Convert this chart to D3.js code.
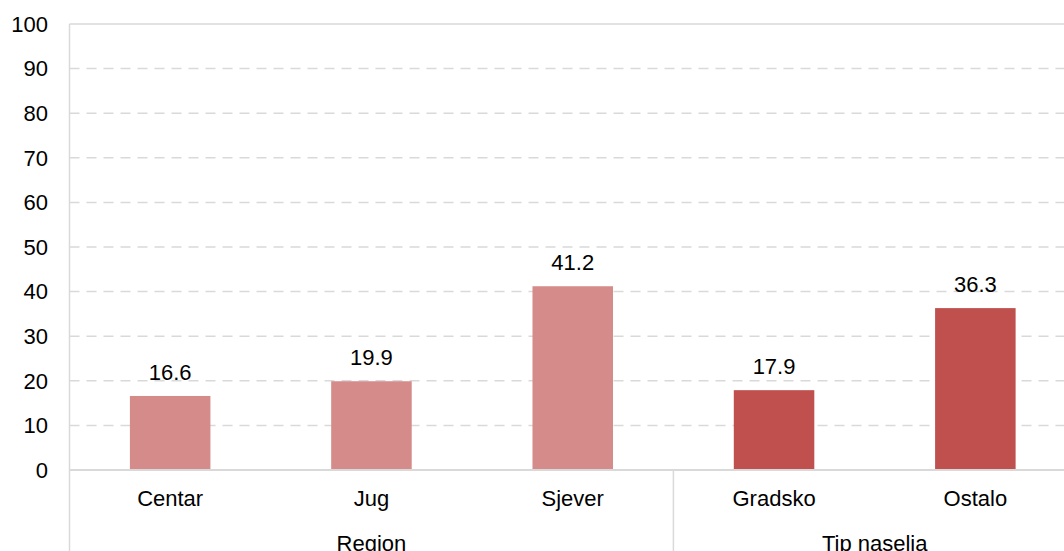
<!DOCTYPE html>
<html lang="en">
  <head>
    <meta charset="UTF-8" />
    <title></title>
    <script src="https://d3js.org/d3.v7.min.js"></script>
    <style>
      body { margin: 0; background: #fff; overflow: hidden; }
      svg { font-family: 'Liberation Sans', Arial, sans-serif; }
    </style>
  </head>
  <body>
    <div class="chart"></div>
    <script>
      let width = 1064
      let height = 551

      // data
      let categories = ['Centar', 'Jug', 'Sjever', 'Gradsko', 'Ostalo']
      let values = [16.6, 19.9, 41.2, 17.9, 36.3]
      let groups = ['Region', 'Region', 'Region', 'Tip naselja', 'Tip naselja']
      let groupNames = ['Region', 'Tip naselja']
      let colors = { 'Region': '#d48b89', 'Tip naselja': '#c0504d' }
      let yTicks = [0, 10, 20, 30, 40, 50, 60, 70, 80, 90, 100]

      let plotLeft = 69.5
      let plotRight = 1076
      let plotTop = 24
      let plotBottom = 470
      let fontSize = '22px'

      let x = d3.scaleBand().domain(categories).range([plotLeft, plotRight]).paddingInner(0.6).paddingOuter(0.3)
      let y = d3.scaleLinear().domain([0, 100]).range([plotBottom, plotTop])

      let svg = d3.select('div.chart')
        .append('svg')
        .attr('width', width)
        .attr('height', height)

      // gridlines
      svg.append('g')
        .selectAll('line')
        .data(yTicks.filter(d => d > 0))
        .enter()
        .append('line')
        .attr('x1', plotLeft)
        .attr('x2', plotRight)
        .attr('y1', d => y(d))
        .attr('y2', d => y(d))
        .attr('stroke', '#d9d9d9')
        .attr('stroke-width', 1.5)
        .attr('stroke-dasharray', d => d === 100 ? null : '10,7')

      // y tick labels
      svg.append('g')
        .selectAll('text')
        .data(yTicks)
        .enter()
        .append('text')
        .attr('x', 48)
        .attr('y', d => y(d))
        .attr('dy', '0.35em')
        .attr('text-anchor', 'end')
        .style('font-size', fontSize)
        .text(d => d)

      // bars
      svg.append('g')
        .selectAll('rect')
        .data(categories)
        .enter()
        .append('rect')
        .attr('x', d => x(d))
        .attr('width', x.bandwidth())
        .attr('y', (d, i) => y(values[i]))
        .attr('height', (d, i) => y(0) - y(values[i]))
        .attr('fill', (d, i) => colors[groups[i]])

      // value labels
      svg.append('g')
        .selectAll('text')
        .data(categories)
        .enter()
        .append('text')
        .attr('x', d => x(d) + x.bandwidth() / 2)
        .attr('y', (d, i) => y(values[i]) - 16)
        .attr('text-anchor', 'middle')
        .style('font-size', fontSize)
        .text((d, i) => values[i].toFixed(1))

      // axes lines
      svg.append('line')
        .attr('x1', plotLeft).attr('x2', plotRight)
        .attr('y1', y(0)).attr('y2', y(0))
        .attr('stroke', '#d9d9d9').attr('stroke-width', 2)
      svg.append('line')
        .attr('x1', plotLeft).attr('x2', plotLeft)
        .attr('y1', plotTop).attr('y2', height)
        .attr('stroke', '#d9d9d9').attr('stroke-width', 1.5)

      // group extents from the band scale
      let step = x.step()
      let groupStart = {}
      let groupEnd = {}
      categories.forEach((c, i) => {
        let g = groups[i]
        let a = x(c) - step * x.paddingInner() / 2
        let b = a + step
        if (groupStart[g] === undefined) groupStart[g] = a
        groupEnd[g] = b
      })
      svg.append('line')
        .attr('x1', groupStart['Tip naselja']).attr('x2', groupStart['Tip naselja'])
        .attr('y1', y(0)).attr('y2', height)
        .attr('stroke', '#d9d9d9').attr('stroke-width', 1.5)

      // category labels
      svg.append('g')
        .selectAll('text')
        .data(categories)
        .enter()
        .append('text')
        .attr('x', d => x(d) + x.bandwidth() / 2)
        .attr('y', 506)
        .attr('text-anchor', 'middle')
        .style('font-size', fontSize)
        .text(d => d)

      // group labels (cut by the bottom edge, as in the reference)
      svg.append('g')
        .selectAll('text')
        .data(groupNames)
        .enter()
        .append('text')
        .attr('x', d => (groupStart[d] + groupEnd[d]) / 2)
        .attr('y', 551)
        .attr('text-anchor', 'middle')
        .style('font-size', fontSize)
        .text(d => d)
    </script>
  </body>
</html>
